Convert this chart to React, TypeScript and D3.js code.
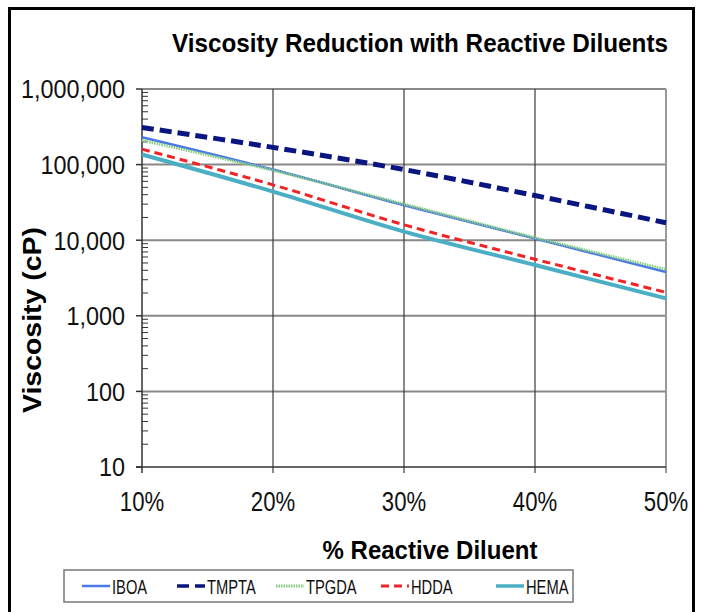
import { useEffect, useRef } from "react";
import * as d3 from "d3";

// Viscosity vs % reactive diluent, log-scale y, drawn with D3 into one svg.

const WIDTH = 702;
const HEIGHT = 612;
const PLOT = { left: 142, right: 666, top: 89, bottom: 467 };

const PERCENTS = [10, 20, 30, 40, 50];
const PERCENT_LABELS = ["10%", "20%", "30%", "40%", "50%"];
const DECADES = [10, 100, 1000, 10000, 100000, 1000000];

const IBOA = [230000, 86000, 29000, 10500, 3800];
const TMPTA = [310000, 169000, 86000, 39000, 17000];
const TPGDA = [210000, 84000, 30000, 10800, 4100];
const HDDA = [160000, 54000, 16000, 5600, 2040];
const HEMA = [136000, 44000, 13000, 4700, 1700];

type Series = {
  name: string;
  values: number[];
  color: string;
  width: number;
  dash: string | null;
};

const SERIES: Series[] = [
  { name: "IBOA", values: IBOA, color: "#4a78e8", width: 2.5, dash: null },
  { name: "TMPTA", values: TMPTA, color: "#0a1580", width: 5, dash: "12 6" },
  { name: "TPGDA", values: TPGDA, color: "#86cc80", width: 3, dash: "1.5 1" },
  { name: "HDDA", values: HDDA, color: "#f02424", width: 3, dash: "8 5" },
  { name: "HEMA", values: HEMA, color: "#4aaec4", width: 4, dash: null },
];

// legend sample start x per entry
const LEGEND_X = [82, 177, 276, 381, 496];

const FONT = "'Liberation Sans', Arial, sans-serif";

export default function App() {
  const svgRef = useRef<SVGSVGElement>(null);

  useEffect(() => {
    document.body.style.margin = "0";
    const svg = d3.select(svgRef.current);
    svg.selectAll("*").remove();

    const x = d3.scaleLinear().domain([10, 50]).range([PLOT.left, PLOT.right]);
    const y = d3.scaleLog().domain([10, 1000000]).range([PLOT.bottom, PLOT.top]);

    svg.append("rect").attr("width", WIDTH).attr("height", HEIGHT).attr("fill", "#fff");
    // outer frame
    svg
      .append("rect")
      .attr("x", 9.5)
      .attr("y", 8.5)
      .attr("width", 684)
      .attr("height", 640)
      .attr("fill", "none")
      .attr("stroke", "#000")
      .attr("stroke-width", 3);

    // Grid horizontal (décadas).
    svg
      .append("g")
      .selectAll("line")
      .data(DECADES.slice(1))
      .join("line")
      .attr("x1", PLOT.left)
      .attr("x2", PLOT.right)
      .attr("y1", (d) => y(d))
      .attr("y2", (d) => y(d))
      .attr("stroke", "#888")
      .attr("stroke-width", 2);

    // vertical grid
    svg
      .append("g")
      .selectAll("line")
      .data(PERCENTS.slice(1))
      .join("line")
      .attr("x1", (d) => x(d))
      .attr("x2", (d) => x(d))
      .attr("y1", PLOT.top)
      .attr("y2", PLOT.bottom + 6)
      .attr("stroke", (d) => (d === 50 ? "#9a9a9a" : "#3a3a3a"))
      .attr("stroke-width", (d) => (d === 50 ? 2 : 1.2));

    // minor ticks inside the y axis
    const minors: number[] = [];
    DECADES.slice(0, -1).forEach((d) => {
      for (let m = 2; m <= 9; m++) minors.push(d * m);
    });
    svg
      .append("g")
      .selectAll("line")
      .data(minors)
      .join("line")
      .attr("x1", PLOT.left)
      .attr("x2", PLOT.left + 6)
      .attr("y1", (d) => y(d))
      .attr("y2", (d) => y(d))
      .attr("stroke", "#333")
      .attr("stroke-width", 1);

    // major ticks out to the left
    svg
      .append("g")
      .selectAll("line")
      .data(DECADES)
      .join("line")
      .attr("x1", PLOT.left - 6)
      .attr("x2", PLOT.left)
      .attr("y1", (d) => y(d))
      .attr("y2", (d) => y(d))
      .attr("stroke", "#333")
      .attr("stroke-width", 1.5);

    // axis lines
    svg
      .append("line")
      .attr("x1", PLOT.left)
      .attr("x2", PLOT.left)
      .attr("y1", PLOT.top)
      .attr("y2", PLOT.bottom + 6)
      .attr("stroke", "#333")
      .attr("stroke-width", 1.5);
    svg
      .append("line")
      .attr("x1", PLOT.left - 6)
      .attr("x2", PLOT.right)
      .attr("y1", PLOT.bottom)
      .attr("y2", PLOT.bottom)
      .attr("stroke", "#333")
      .attr("stroke-width", 1.5);

    // series
    const line = d3
      .line<number>()
      .x((_, i) => x(PERCENTS[i]))
      .y((v) => y(v))
      .curve(d3.curveCatmullRom.alpha(0.5));

    SERIES.forEach((s) => {
      svg
        .append("path")
        .datum(s.values)
        .attr("fill", "none")
        .attr("stroke", s.color)
        .attr("stroke-width", s.width)
        .attr("stroke-dasharray", s.dash)
        .attr("d", line);
    });

    // text helper: squeezes glyphs horizontally like the source image
    const squeeze = (sel: d3.Selection<SVGTextElement, any, any, any>, k: number) => {
      sel.each(function () {
        const w = this.getComputedTextLength();
        this.setAttribute("textLength", String(w * k));
        this.setAttribute("lengthAdjust", "spacingAndGlyphs");
      });
    };

    // y tick labels
    const yLabels = svg
      .append("g")
      .selectAll("text")
      .data(DECADES)
      .join("text")
      .attr("x", 125)
      .attr("y", (d) => y(d))
      .attr("dy", "0.36em")
      .attr("text-anchor", "end")
      .attr("font-family", FONT)
      .attr("font-size", 26)
      .attr("fill", "#111")
      .text((d) => d3.format(",")(d));
    squeeze(yLabels as any, 0.9);

    // x tick labels
    const xLabels = svg
      .append("g")
      .selectAll("text")
      .data(PERCENTS)
      .join("text")
      .attr("x", (d) => x(d))
      .attr("y", 511)
      .attr("text-anchor", "middle")
      .attr("font-family", FONT)
      .attr("font-size", 27)
      .attr("fill", "#111")
      .text((_, i) => PERCENT_LABELS[i]);
    squeeze(xLabels as any, 0.82);

    // title + axis titles
    const title = svg
      .append("text")
      .attr("x", 420)
      .attr("y", 52)
      .attr("text-anchor", "middle")
      .attr("font-family", FONT)
      .attr("font-weight", "bold")
      .attr("font-size", 25)
      .text("Viscosity Reduction with Reactive Diluents");
    const tw = (title.node() as SVGTextElement).getComputedTextLength();
    squeeze(title as any, Math.min(1, 496 / tw));

    svg
      .append("text")
      .attr("transform", "translate(41,320) rotate(-90)")
      .attr("text-anchor", "middle")
      .attr("font-family", FONT)
      .attr("font-weight", "bold")
      .attr("font-size", 26)
      .attr("textLength", 186)
      .attr("lengthAdjust", "spacingAndGlyphs")
      .text("Viscosity (cP)");

    svg
      .append("text")
      .attr("x", 430)
      .attr("y", 559)
      .attr("text-anchor", "middle")
      .attr("font-family", FONT)
      .attr("font-weight", "bold")
      .attr("font-size", 25)
      .attr("textLength", 215)
      .attr("lengthAdjust", "spacingAndGlyphs")
      .text("% Reactive Diluent");

    // legend
    const lg = svg.append("g");
    lg.append("rect")
      .attr("x", 64)
      .attr("y", 570)
      .attr("width", 509)
      .attr("height", 32)
      .attr("fill", "#fff")
      .attr("stroke", "#777")
      .attr("stroke-width", 1.5);

    SERIES.forEach((s, i) => {
      const x0 = LEGEND_X[i];
      lg.append("line")
        .attr("x1", x0)
        .attr("x2", x0 + 28)
        .attr("y1", 586)
        .attr("y2", 586)
        .attr("stroke", s.color)
        .attr("stroke-width", Math.min(s.width, 3.5))
        .attr("stroke-dasharray", s.dash);
      const t = lg
        .append("text")
        .attr("x", x0 + 30)
        .attr("y", 586)
        .attr("dy", "0.36em")
        .attr("font-family", FONT)
        .attr("font-size", 21)
        .attr("fill", "#111")
        .text(s.name);
      squeeze(t as any, 0.7);
    });
  }, []);

  return (
    <svg
      ref={svgRef}
      width={WIDTH}
      height={HEIGHT}
      style={{ display: "block" }}
      role="img"
      aria-label="Viscosity Reduction with Reactive Diluents"
    />
  );
}
